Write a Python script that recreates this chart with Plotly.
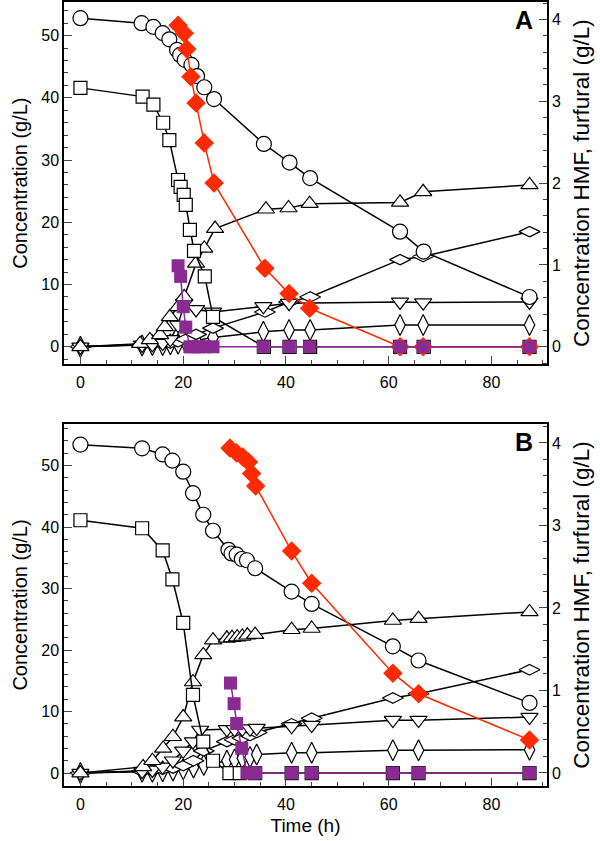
import plotly.graph_objects as go

# ---------------- Panel A data ----------------
A_circ_t = [0, 11.9, 14.2, 16.0, 17.3, 18.8, 19.4, 20.3, 21.6, 22.7, 24.1, 26.0, 35.7, 40.7, 44.7, 62.2, 66.8, 87.4]
A_circ = [52.8, 52.0, 51.4, 50.4, 49.4, 47.7, 46.9, 46.1, 45.3, 43.5, 41.7, 39.8, 32.6, 29.6, 27.1, 18.5, 15.3, 8.0]

A_sq_t = [0, 12.1, 14.2, 16.1, 17.3, 19.0, 19.5, 20.1, 20.5, 21.3, 22.1, 24.2, 25.8, 35.7, 40.7, 44.7, 62.2, 66.8, 87.4]
A_sq = [41.6, 40.2, 38.9, 36.0, 33.2, 26.8, 25.7, 24.4, 22.8, 18.8, 15.4, 11.3, 4.8, 0, 0, 0, 0, 0, 0]

A_tu_t = [0, 11.6, 13.5, 15.5, 16.4, 17.4, 19.0, 20.2, 22.5, 24.1, 26.2, 36.1, 40.5, 44.6, 62.2, 66.7, 87.4]
A_tu = [0, 0.5, 1.1, 1.9, 3.2, 4.8, 6.4, 8.0, 13.4, 15.8, 19.0, 22.1, 22.3, 23.0, 23.2, 24.9, 26.0]

A_td_t = [0, 12.0, 14.0, 16.0, 17.5, 19.0, 20.2, 22.5, 25.8, 35.6, 40.6, 62.2, 66.7, 87.4]
A_td = [0, 0.3, 0.4, 0.6, 1.2, 3.5, 7.0, 6.0, 5.6, 6.5, 7.0, 7.2, 7.1, 7.2]

A_dw_t = [0, 12.0, 14.0, 16.0, 17.5, 19.0, 20.5, 22.5, 25.8, 35.9, 40.6, 44.7, 62.2, 66.7, 87.4]
A_dw = [0, 0.3, 0.4, 0.5, 0.6, 0.8, 1.2, 2.0, 3.0, 5.6, 7.2, 8.0, 14.0, 14.5, 18.5]

A_dt_t = [0, 12.0, 14.0, 16.0, 17.5, 19.0, 20.5, 22.5, 25.8, 35.6, 40.6, 44.7, 62.2, 66.7, 87.4]
A_dt = [0, 0.2, 0.3, 0.3, 0.4, 0.5, 0.7, 1.0, 1.5, 2.4, 2.7, 2.7, 3.5, 3.5, 3.5]

A_hmf_t = [19.0, 20.2, 20.7, 21.5, 22.5, 24.1, 26.0, 35.9, 40.6, 44.6, 62.2, 66.7, 87.4]
A_hmf = [3.93, 3.83, 3.64, 3.30, 2.98, 2.49, 2.00, 0.96, 0.65, 0.47, 0, 0, 0]

A_fur_t = [19.0, 19.5, 20.0, 20.5, 21.3, 22.1, 23.0, 24.2, 25.8, 35.6, 40.6, 44.6, 62.2, 66.7, 87.4]
A_fur = [0.99, 0.86, 0.49, 0.24, 0, 0, 0, 0, 0, 0, 0, 0, 0, 0, 0]

# ---------------- Panel B data ----------------
B_circ_t = [0, 12.0, 16.0, 17.9, 20.0, 21.9, 23.9, 25.8, 28.8, 29.4, 30.4, 31.4, 32.4, 34.0, 41.1, 45.0, 60.8, 65.8, 87.4]
B_circ = [53.4, 52.8, 51.8, 50.8, 49.0, 45.5, 42.0, 39.4, 36.3, 35.7, 35.5, 34.8, 34.6, 33.3, 29.5, 27.5, 20.6, 18.3, 11.4]

B_sq_t = [0, 12.0, 16.0, 17.9, 20.0, 21.9, 23.9, 25.8, 29.0, 31.0, 34.0, 41.1, 45.0, 60.8, 65.8, 87.4]
B_sq = [41.1, 39.8, 36.2, 31.5, 24.4, 12.7, 5.1, 2.0, 0, 0, 0, 0, 0, 0, 0, 0]

B_tu_t = [0, 12.2, 14.0, 16.1, 18.0, 20.0, 21.9, 23.9, 25.8, 28.5, 29.5, 30.5, 31.5, 32.5, 34.0, 41.1, 45.0, 60.8, 65.8, 87.4]
B_tu = [0, 1.0, 2.0, 4.0, 5.9, 9.1, 14.8, 19.2, 21.6, 21.9, 22.0, 22.1, 22.2, 22.4, 22.5, 23.3, 23.5, 24.8, 25.1, 26.2]

B_td_t = [0, 12.0, 14.0, 16.0, 18.0, 20.0, 21.9, 23.3, 28.5, 30.0, 31.5, 33.0, 34.3, 41.1, 45.0, 60.8, 65.8, 87.4]
B_td = [0, 0.3, 0.5, 1.0, 2.0, 3.6, 5.1, 7.0, 7.1, 7.1, 7.2, 7.2, 7.3, 7.6, 7.8, 8.6, 8.6, 9.1]

B_dw_t = [0, 12.0, 14.0, 16.0, 18.0, 20.0, 22.0, 24.0, 28.5, 30.0, 31.5, 33.0, 34.3, 41.1, 45.0, 60.8, 65.8, 87.4]
B_dw = [0, 0.3, 0.4, 0.6, 0.8, 1.2, 2.0, 3.6, 5.1, 5.4, 5.7, 6.1, 6.6, 8.0, 8.9, 12.2, 12.9, 16.8]

B_dt_t = [0, 12.0, 14.0, 16.0, 18.0, 20.0, 22.0, 24.0, 28.5, 30.0, 31.5, 33.0, 34.3, 41.1, 45.0, 60.8, 65.8, 87.4]
B_dt = [0, 0.2, 0.2, 0.3, 0.4, 0.6, 0.9, 1.3, 2.0, 2.2, 2.4, 2.6, 3.0, 3.3, 3.3, 3.7, 3.7, 3.8]

B_hmf_t = [29.1, 30.4, 31.6, 32.7, 33.3, 34.1, 41.1, 45.0, 60.8, 65.8, 87.4]
B_hmf = [3.94, 3.88, 3.83, 3.77, 3.63, 3.48, 2.69, 2.30, 1.21, 0.96, 0.40]

B_fur_t = [29.2, 29.9, 30.4, 31.4, 32.4, 33.3, 34.1, 41.1, 45.0, 60.8, 65.8, 87.4]
B_fur = [1.09, 0.84, 0.60, 0.30, 0, 0, 0, 0, 0, 0, 0, 0]

RED = "#ff2a00"
PURPLE = "#8a2a92"
FONT = "Liberation Sans, Arial, sans-serif"

fig = go.Figure()

def open_series(t, y, symbol, size, xa, ya):
    fig.add_trace(go.Scatter(
        x=t, y=y, mode="lines+markers", xaxis=xa, yaxis=ya,
        line=dict(color="black", width=1.5),
        marker=dict(symbol=symbol, size=size, color="white",
                    line=dict(color="black", width=1.2)),
        showlegend=False, cliponaxis=False))

def filled_series(t, y, symbol, size, color, xa, ya):
    fig.add_trace(go.Scatter(
        x=t, y=y, mode="lines+markers", xaxis=xa, yaxis=ya,
        line=dict(color=color, width=1.5),
        marker=dict(symbol=symbol, size=size, color=color,
                    line=dict(color=color, width=0)),
        showlegend=False, cliponaxis=False))

for (xa, ya, ya2, d) in [("x", "y", "y2", "A"), ("x2", "y3", "y4", "B")]:
    g = globals()
    open_series(g[d + "_dt_t"], g[d + "_dt"], "diamond-tall", 15, xa, ya)
    open_series(g[d + "_dw_t"], g[d + "_dw"], "diamond-wide", 15, xa, ya)
    open_series(g[d + "_td_t"], g[d + "_td"], "triangle-down", 15, xa, ya)
    open_series(g[d + "_tu_t"], g[d + "_tu"], "triangle-up", 15, xa, ya)
    open_series(g[d + "_sq_t"], g[d + "_sq"], "square", 13, xa, ya)
    open_series(g[d + "_circ_t"], g[d + "_circ"], "circle", 15, xa, ya)
    filled_series(g[d + "_hmf_t"], g[d + "_hmf"], "diamond", 15, RED, xa, ya2)
    filled_series(g[d + "_fur_t"], g[d + "_fur"], "square", 13, PURPLE, xa, ya2)

tickfont = dict(family=FONT, size=16, color="black")

xcommon = dict(range=[-3.2, 90.8], tick0=0, dtick=20, ticks="inside", ticklen=8,
               tickwidth=1.2, showline=True, linecolor="black", linewidth=1.5,
               mirror=True, showgrid=False, zeroline=False, tickfont=tickfont,
               automargin=False, ticklabelstandoff=3,
               minor=dict(dtick=5, ticks="inside", ticklen=4, tickwidth=1, showgrid=False))

ylcommon = dict(tick0=0, dtick=10, ticks="inside", ticklen=8, tickwidth=1.2,
                showline=True, linecolor="black", linewidth=1.5, showgrid=False,
                zeroline=False, tickfont=tickfont, automargin=False,
                minor=dict(dtick=2, ticks="inside", ticklen=4, tickwidth=1, showgrid=False),
                title=dict(text="Concentration (g/L)",
                           font=dict(family=FONT, size=20, color="black"), standoff=8))

yrcommon = dict(tick0=0, dtick=1, ticks="inside", ticklen=8, tickwidth=1.2,
                showline=True, linecolor="black", linewidth=1.5, showgrid=False,
                zeroline=False, tickfont=tickfont, side="right", automargin=False,
                minor=dict(dtick=0.2, ticks="inside", ticklen=4, tickwidth=1, showgrid=False),
                title=dict(text="Concentration HMF, furfural (g/L)",
                           font=dict(family=FONT, size=22.5, color="black"), standoff=13))

fig.update_layout(
    width=600, height=841,
    margin=dict(l=64, r=53, t=2, b=55),
    paper_bgcolor="white", plot_bgcolor="white",
    font=dict(family=FONT, color="black"),
    xaxis=dict(**xcommon, domain=[0, 1], anchor="y"),
    yaxis=dict(**ylcommon, domain=[0.538, 1.0], range=[-2.8, 55.4], anchor="x"),
    yaxis2=dict(**yrcommon, overlaying="y", range=[-0.213, 4.213], anchor="x"),
    xaxis2=dict(**xcommon, domain=[0, 1], anchor="y3",
                title=dict(text="Time (h)", font=dict(family=FONT, size=19, color="black"),
                           standoff=7)),
    yaxis3=dict(**ylcommon, domain=[0.0, 0.4617], range=[-2.11, 56.75], anchor="x2"),
    yaxis4=dict(**yrcommon, overlaying="y3", range=[-0.158, 4.23], anchor="x2"),
    annotations=[
        dict(text="<b>A</b>", x=0.975, y=0.998, xref="paper", yref="paper",
             xanchor="right", yanchor="top", showarrow=False,
             font=dict(family=FONT, size=25, color="black")),
        dict(text="<b>B</b>", x=0.975, y=0.4597, xref="paper", yref="paper",
             xanchor="right", yanchor="top", showarrow=False,
             font=dict(family=FONT, size=25, color="black")),
    ],
)

fig.write_html("out.html", config={"displayModeBar": False},
               post_script="document.body.style.margin='0px';")
